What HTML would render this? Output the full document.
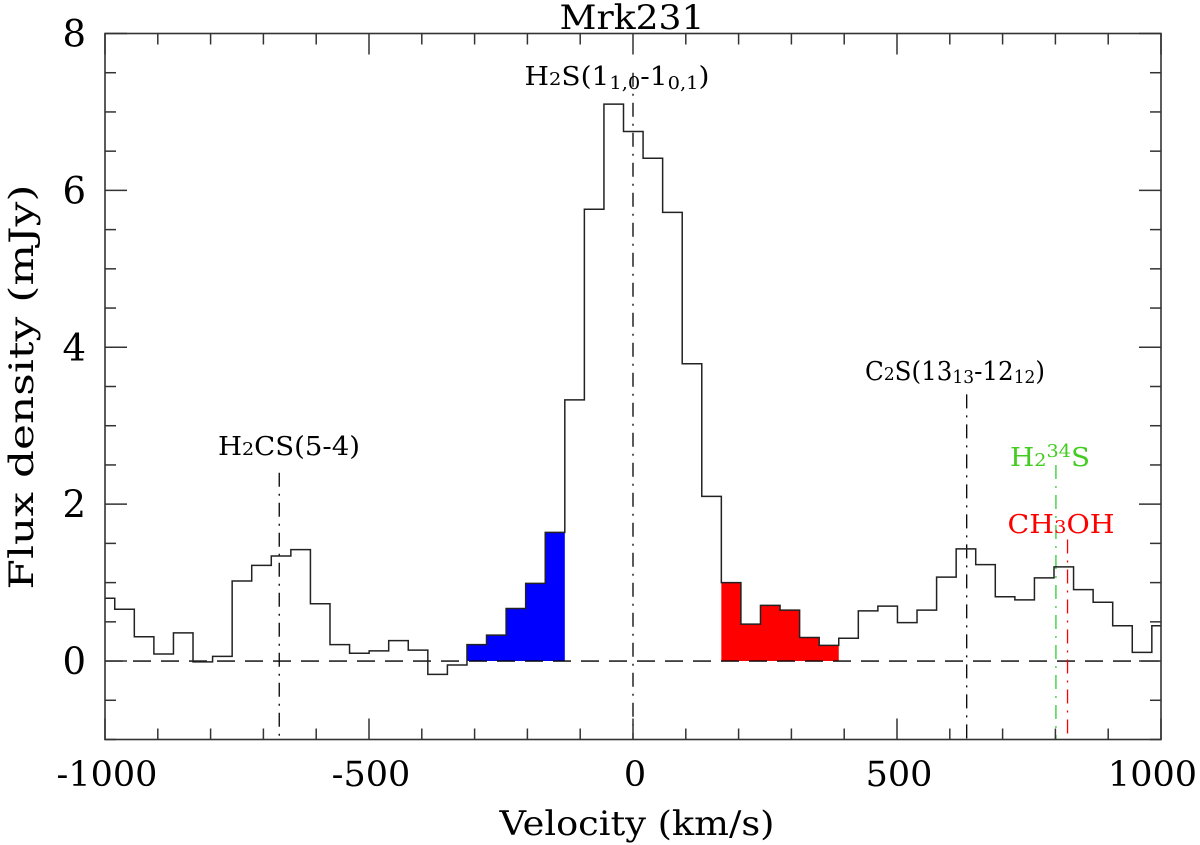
<!DOCTYPE html>
<html><head><meta charset="utf-8"><style>
html,body{margin:0;padding:0;background:#fff;}
svg{display:block;font-family:"DejaVu Serif","Liberation Serif",serif;}
</style></head><body>
<svg id="chart" width="1200" height="845" viewBox="0 0 1200 845">
<text x="632" y="29" font-size="34" text-anchor="middle" textLength="145" lengthAdjust="spacingAndGlyphs">Mrk231</text>
<text x="637" y="835" font-size="34" text-anchor="middle" textLength="275" lengthAdjust="spacingAndGlyphs">Velocity (km/s)</text>
<text transform="translate(33,387) rotate(-90)" font-size="34" text-anchor="middle" textLength="405" lengthAdjust="spacingAndGlyphs">Flux density (mJy)</text>
<text x="617" y="85" font-size="26" text-anchor="middle" textLength="185" lengthAdjust="spacingAndGlyphs">H<tspan font-size="18">2</tspan>S(1<tspan font-size="18" dy="4">1,0</tspan><tspan dy="-4">-1</tspan><tspan font-size="18" dy="4">0,1</tspan><tspan dy="-4">)</tspan></text>
<text x="289" y="455" font-size="26" text-anchor="middle" textLength="142" lengthAdjust="spacingAndGlyphs">H<tspan font-size="18">2</tspan>CS(5-4)</text>
<text x="955" y="380" font-size="26" text-anchor="middle" textLength="180" lengthAdjust="spacingAndGlyphs">C<tspan font-size="18">2</tspan>S(13<tspan font-size="18" dy="3">13</tspan><tspan dy="-3">-12</tspan><tspan font-size="18" dy="3">12</tspan><tspan dy="-3">)</tspan></text>
<text x="1050" y="466" font-size="26" text-anchor="middle" fill="#44cc22" textLength="80" lengthAdjust="spacingAndGlyphs">H<tspan font-size="18">2</tspan><tspan font-size="18" dy="-9">34</tspan><tspan dy="9">S</tspan></text>
<text x="1061" y="533" font-size="26" text-anchor="middle" fill="#ff0000" textLength="107" lengthAdjust="spacingAndGlyphs">CH<tspan font-size="18">3</tspan>OH</text>
</svg>
<script>
const binStart = -1018.6;
const binWidth = 37.06;
const fluxValues = [0.80,0.66,0.31,0.09,0.36,-0.01,0.06,1.02,1.22,1.34,1.42,0.73,0.21,0.10,0.13,0.26,0.14,-0.17,-0.05,0.21,0.33,0.67,0.99,1.64,3.33,5.76,7.10,6.75,6.41,5.72,3.79,2.10,1.00,0.47,0.71,0.65,0.30,0.20,0.29,0.64,0.70,0.49,0.65,1.07,1.43,1.23,0.82,0.78,1.06,1.20,0.91,0.75,0.45,0.11,0.45];
const blueBins = [19,20,21,22,23];
const redBins = [32,33,34,35,36,37];
const xTickLabels = [-1000,-500,0,500,1000];
const yTickLabels = [0,2,4,6,8];
const lineVel = [-670,0,632,801,823];
const lineTop = [2.4,7.5,3.4,2.5,1.55];
const lineColors = ['#000','#000','#000','#33cc33','#ff0000'];

const L=105,R=1161,T=33.5,B=739.5;
const xMin=-1000,xMax=1000,yMin=-1,yMax=8;
const X=v=>L+(v-xMin)/(xMax-xMin)*(R-L);
const Y=v=>B-(v-yMin)/(yMax-yMin)*(B-T);
const NS='http://www.w3.org/2000/svg';
const svg=document.getElementById('chart');
const first=svg.firstChild;
function mk(tag,attrs){const e=document.createElementNS(NS,tag);for(const k in attrs)e.setAttribute(k,attrs[k]);svg.insertBefore(e,first);return e;}
const clamp=v=>Math.max(xMin,Math.min(xMax,v));

function fillPath(bins){let d='M'+X(clamp(binStart+bins[0]*binWidth))+','+Y(0);
bins.forEach(i=>{const x0=X(clamp(binStart+i*binWidth)),x1=X(clamp(binStart+(i+1)*binWidth));const y=Y(fluxValues[i]);d+='L'+x0+','+y+'L'+x1+','+y;});
d+='L'+X(clamp(binStart+(bins[bins.length-1]+1)*binWidth))+','+Y(0)+'Z';return d;}
const bf=mk('path',{d:fillPath(blueBins),fill:'#0000ff'});


const rf=mk('path',{d:fillPath(redBins),fill:'#ff0000'});



const z=mk('line',{x1:L,x2:R,y1:Y(0),y2:Y(0),stroke:'#000','stroke-width':1.3,'stroke-dasharray':'18,10'});



lineVel.forEach((v,i)=>{const l=mk('line',{x1:X(v),x2:X(v),y1:Y(lineTop[i]),y2:B,stroke:lineColors[i],'stroke-width':1.3,'stroke-dasharray':'14,7,2,7'});

});

let d='';
fluxValues.forEach((f,i)=>{const x0=X(clamp(binStart+i*binWidth)),x1=X(clamp(binStart+(i+1)*binWidth));const y=Y(f);
d+=(i===0?'M':'L')+x0+','+y+'L'+x1+','+y;});
const h=mk('path',{d:d,fill:'none',stroke:'#222','stroke-width':1.5});



const fr=mk('rect',{x:L,y:T,width:R-L,height:B-T,fill:'none',stroke:'#333','stroke-width':1.6});



for(let v=xMin;v<=xMax;v+=100){const maj=v%500===0;const len=maj?21:11;
mk('line',{x1:X(v),x2:X(v),y1:B,y2:B-len,stroke:'#333','stroke-width':1.5});
mk('line',{x1:X(v),x2:X(v),y1:T,y2:T+len,stroke:'#333','stroke-width':1.5});}
xTickLabels.forEach((v,i)=>{const last=i===xTickLabels.length-1;
const t=mk('text',{x:last?1197:X(v)+2,y:786,'font-size':35,'text-anchor':last?'end':'middle',fill:'#000'});t.textContent=v;

});
for(let k=0;k<=18;k++){const v=yMin+k*0.5;const maj=Math.abs(v%2)<1e-9;const len=maj?22:11;
mk('line',{x1:L,x2:L+len,y1:Y(v),y2:Y(v),stroke:'#333','stroke-width':1.5});
mk('line',{x1:R,x2:R-len,y1:Y(v),y2:Y(v),stroke:'#333','stroke-width':1.5});}
yTickLabels.forEach(v=>{const t=mk('text',{x:86,y:Y(v)+13,'font-size':37,'text-anchor':'end',fill:'#000'});t.textContent=v;

});
</script>
</body></html>
